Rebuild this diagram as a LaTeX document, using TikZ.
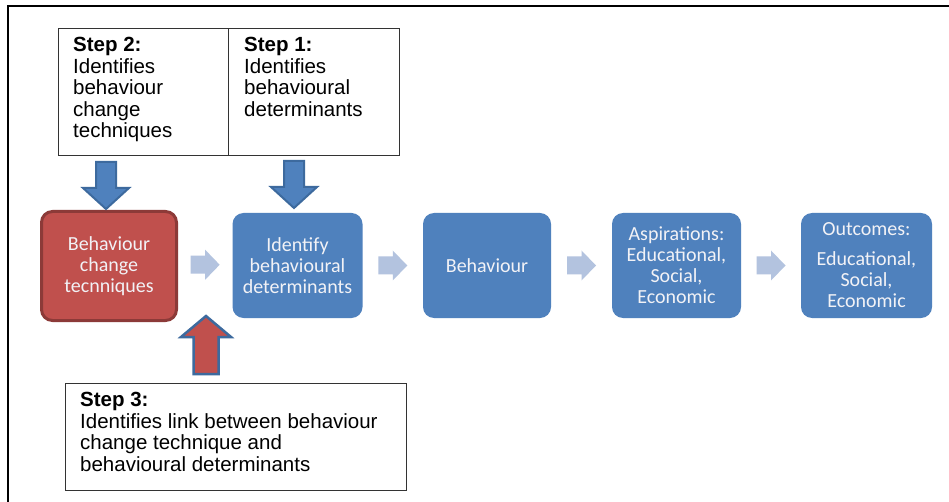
\documentclass[tikz,border=0pt]{standalone}
\usepackage{fontspec}
\setmainfont{Liberation Sans}
\newfontfamily\boxfont{Carlito}
\usetikzlibrary{calc}
\definecolor{boxblue}{HTML}{4F81BD}
\definecolor{boxred}{HTML}{C0504D}
\definecolor{redborder}{HTML}{8C3A38}
\definecolor{arrowborder}{HTML}{3D6A9E}
\definecolor{lightarrow}{HTML}{B3C3DF}
\definecolor{boxtext}{HTML}{F2F2F6}
\tikzset{
  pics/lightarrowpic/.style={code={
    \fill[lightarrow] (-14.5,-9) -- (0,-9) -- (0,-15) -- (14.5,0) -- (0,15) -- (0,9) -- (-14.5,9) -- cycle;}},
  pics/downarrowpic/.style={code={
    \draw[fill=boxblue, draw=arrowborder, line width=2pt] (0,-1) -- (-23,-22) -- (-10,-22) -- (-10,-48) -- (10,-48) -- (10,-22) -- (23,-22) -- cycle;}},
  pics/uparrowpic/.style={code={
    \draw[fill=boxred, draw=arrowborder, line width=2.5pt] (0,1) -- (25,22) -- (12.5,22) -- (12.5,59) -- (-12.5,59) -- (-12.5,22) -- (-25,22) -- cycle;}}
}
\begin{document}
\begin{tikzpicture}[x=1pt,y=-1pt,
  stepframe/.style={draw=black!80, line width=1.1pt},
  steptext/.style={anchor=north west, inner sep=0pt, align=left, font=\fontsize{20.5}{21.5}\selectfont},
  flowbox/.style={rounded corners=11pt, fill=boxblue, text=boxtext, align=center,
    font=\boxfont\fontsize{20}{21}\selectfont, minimum height=105pt, inner sep=0pt},
  redbox/.style={flowbox, fill=boxred, draw=redborder, line width=3pt, minimum height=109pt, minimum width=135pt}]
\useasboundingbox (0,0) rectangle (949,502);
\fill[white] (0,0) rectangle (949,502);
% outer frame
\draw[line width=2.5pt] (8,503) -- (8,6) -- (950,6);

% top step boxes
\node[stepframe, anchor=north west, minimum width=170pt, minimum height=127pt, inner sep=0pt] (s2box) at (58,28) {};
\node[stepframe, anchor=north west, minimum width=171pt, minimum height=127pt, inner sep=0pt] (s1box) at (228,28) {};
\node[steptext] (s2text) at (73,37) {\textbf{Step 2:}\\Identifies\\behaviour\\change\\techniques};
\node[steptext] (s1text) at (244,37) {\textbf{Step 1:}\\Identifies\\behavioural\\determinants};

% bottom step box
\node[stepframe, anchor=north west, minimum width=341pt, minimum height=107pt, inner sep=0pt] (s3box) at (65,383) {};
\node[steptext] (s3text) at (80,392) {\textbf{Step 3:}\\Identifies link between behaviour\\change technique and\\behavioural determinants};

% flow boxes
\node[redbox] (bct) at (109,266) {Behaviour\\change\\tecnniques};
\node[flowbox, minimum width=130pt] (ibd) at (297.5,265.5) {Identify\\behavioural\\determinants};
\node[flowbox, minimum width=128pt] (beh) at (487,265.5) {Behaviour};
\node[flowbox, minimum width=129pt] (asp) at (676.5,265.5) {Aspirations:\\Educational,\\Social,\\Economic};
\node[flowbox, minimum width=131pt] (out) at (866.5,265.5) {Outcomes:\\[9pt]Educational,\\Social,\\Economic};

% light block arrows between boxes
\pic at ($(bct.east)!0.5!(ibd.west)+(0,-1)$) {lightarrowpic};
\pic at ($(ibd.east)!0.5!(beh.west)$) {lightarrowpic};
\pic at ($(beh.east)!0.5!(asp.west)$) {lightarrowpic};
\pic at ($(asp.east)!0.5!(out.west)$) {lightarrowpic};

% step arrows
\coordinate (d2tip) at (106,210);
\coordinate (d1tip) at (294,209);
\coordinate (u3tip) at (206,315);
\pic at (d2tip) {downarrowpic};
\pic at (d1tip) {downarrowpic};
\pic at (u3tip) {uparrowpic};
\end{tikzpicture}
\end{document}
